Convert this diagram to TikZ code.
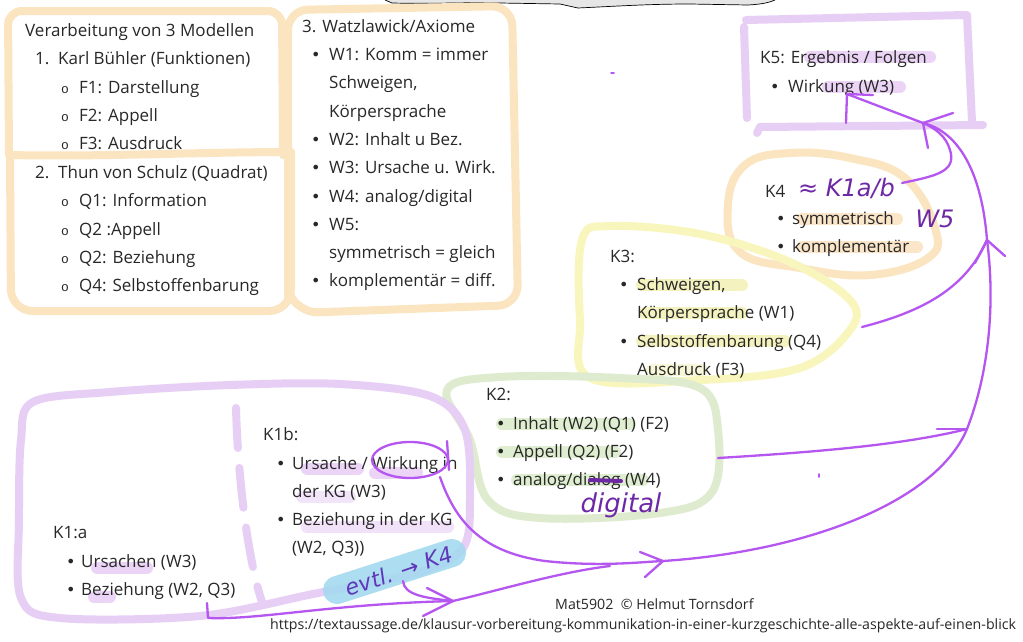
\documentclass[tikz,border=0pt]{standalone}
\usepackage{fontspec}
\setmainfont{Open Sans}
\newfontfamily\hand{DejaVu Sans}
\newfontfamily\monof{Liberation Mono}
\definecolor{peach}{RGB}{251,228,192}
\definecolor{lilac}{RGB}{231,206,245}
\definecolor{lime}{RGB}{222,235,206}
\definecolor{lemon}{RGB}{248,246,188}
\definecolor{violet}{RGB}{182,86,240}
\definecolor{ink}{RGB}{110,40,165}
\definecolor{sky}{RGB}{165,218,240}
\definecolor{txtc}{RGB}{40,40,40}
\definecolor{hlpurple}{RGB}{232,205,245}
\definecolor{hlorange}{RGB}{251,226,192}
\definecolor{hlyellow}{RGB}{243,241,180}
\definecolor{hlgreen}{RGB}{218,234,200}
\definecolor{topgray}{RGB}{230,230,230}
\begin{document}
\begin{tikzpicture}[x=1pt,y=-1pt,
  t/.style={anchor=base west,inner sep=0pt,font=\fontsize{17}{20}\selectfont,text=txtc},
  bul/.style={anchor=base west,inner sep=0pt,font=\hand\fontsize{16}{19}\selectfont,text=txtc},
  hol/.style={anchor=base west,inner sep=0pt,font=\monof\fontsize{13}{15}\selectfont,text=txtc},
  foot/.style={anchor=base west,inner sep=0pt,font=\fontsize{14.2}{16}\selectfont,text=txtc},
  hw/.style={inner sep=0pt,font=\hand\itshape\fontsize{24}{26}\selectfont,text=ink},
  pastel/.style={line width=8pt,line cap=round,line join=round},
  hl/.style={line width=12pt,line cap=round,opacity=0.85},
  arr/.style={draw=violet,line width=2.3pt,line cap=round,line join=round},
]
\fill[white] (0,0) rectangle (1023,641);
\useasboundingbox (0,0) rectangle (1023,641);

% top gray shape
\fill[topgray] (385,0) -- (392,3) .. controls (440,4) and (470,2) .. (500,3) -- (560,4) -- (578,8) .. controls (620,6) and (650,4) .. (690,4) -- (748,5) .. controls (765,4) and (770,2) .. (775,0) -- cycle;
\draw[black,line width=0.7pt] (385,0) -- (392,3) .. controls (440,4) and (470,2) .. (500,3) -- (560,4) -- (578,8) .. controls (620,6) and (650,4) .. (690,4) -- (748,5) .. controls (765,4) and (770,2) .. (775,0);

% orange boxes (top left)
\draw[pastel,peach,rounded corners=14pt] (9,155) -- (8,11) -- (282,11) -- (283,155);
\draw[pastel,peach] (9,155) .. controls (100,157) and (200,152) .. (291,152);
\draw[pastel,peach,rounded corners=22pt] (10,155) -- (11,311) -- (291,311) -- (291,152);
\draw[pastel,peach,rounded corners=20pt] (288,300) -- (288,10) -- (512,6) -- (518,305) -- (298,313) -- (288,290);

% K5 box
\draw[pastel,lilac] (744,27) -- (747,118);
\draw[pastel,lilac] (746,20) -- (965,15);
\draw[pastel,lilac] (967,15) -- (972,122);
\draw[pastel,lilac] (757,133) -- (760,127) -- (983,125);

% K4 blob
\draw[pastel,peach] plot[smooth cycle,tension=0.7] coordinates {(728,205) (745,165) (790,153) (850,158) (905,178) (935,228) (928,258) (870,275) (800,268) (740,252)};

% K3 blob
\draw[pastel,lemon] plot[smooth cycle,tension=0.6] coordinates {(582,240) (610,226) (700,234) (790,262) (850,300) (850,330) (800,368) (700,380) (590,378) (580,320)};

% K2 blob
\draw[pastel,lime] plot[smooth cycle,tension=0.6] coordinates {(447,390) (500,377) (620,378) (700,388) (718,430) (712,492) (660,513) (540,518) (488,500) (470,440)};

% K1 blob
\draw[pastel,lilac] plot[smooth cycle,tension=0.55] coordinates {(33,402) (110,392) (230,385) (340,384) (430,396) (465,430) (470,500) (463,548) (420,572) (313,594) (200,616) (60,618) (21,598) (19,520) (21,440)};
\draw[pastel,lilac,dash pattern=on 40pt off 20pt] (236,408) .. controls (238,480) and (248,560) .. (262,602);

% highlights
\draw[hl,sky,line width=28pt,opacity=0.9] (337,590) -- (452,553);
\draw[hl,hlpurple] (810,57) -- (930,57);
\draw[hl,hlpurple] (828,87) -- (900,87);
\draw[hl,hlorange] (802,219) -- (897,219);
\draw[hl,hlorange] (802,247) -- (917,247);
\draw[hl,hlyellow] (642,285) -- (742,285);
\draw[hl,hlyellow] (645,313) -- (742,313);
\draw[hl,hlyellow] (642,341) -- (785,341);
\draw[hl,hlyellow,opacity=0.5] (652,370) -- (702,370);
\draw[hl,hlgreen] (502,424) -- (630,424);
\draw[hl,hlgreen] (502,452) -- (615,452);
\draw[hl,hlgreen] (517,480) -- (643,480);
\draw[hl,hlpurple] (307,469) -- (358,469);
\draw[hl,hlpurple] (375,473) -- (417,473);
\draw[hl,hlpurple,opacity=0.5] (302,497) -- (350,497);
\draw[hl,hlpurple,opacity=0.6] (307,527) -- (448,527);
\draw[hl,hlpurple] (97,568) -- (147,568);
\draw[hl,hlpurple] (94,597) -- (110,597);

% ---- texts: left box
\node[t] (v0) at (25,36) {Verarbeitung von 3 Modellen};
\node[t] (n1) at (35,64.5) {1.};
\node[t] (kb) at (58,64.5) {Karl Bühler (Funktionen)};
\node[hol] (o1) at (61,93) {o};   \node[t] (f1) at (79,93) {F1: Darstellung};
\node[hol] (o2) at (61,121.5) {o}; \node[t] (f2) at (79,121.5) {F2: Appell};
\node[hol] (o3) at (61,149.5) {o}; \node[t] (f3) at (79,149.5) {F3: Ausdruck};
\node[t] (n2) at (35,178) {2.};
\node[t] (ts) at (58,178) {Thun von Schulz (Quadrat)};
\node[hol] (o4) at (61,206.5) {o}; \node[t] (q1) at (79,206.5) {Q1: Information};
\node[hol] (o5) at (61,235) {o};   \node[t] (q2) at (79,235) {Q2 :Appell};
\node[hol] (o6) at (61,263) {o};   \node[t] (q3) at (79,263) {Q2: Beziehung};
\node[hol] (o7) at (61,291.5) {o}; \node[t] (q4) at (79,291.5) {Q4: Selbstoffenbarung};

% right column
\node[t] (wz) at (302,32) {3. Watzlawick/Axiome};
\node[bul] (b1) at (311,60) {•};  \node[t] (w1) at (329,60) {W1: Komm = immer};
\node[t] (w1b) at (329,88) {Schweigen,};
\node[t] (w1c) at (329,117) {Körpersprache};
\node[bul] (b2) at (311,145) {•}; \node[t] (w2) at (329,145) {W2: Inhalt u Bez.};
\node[bul] (b3) at (311,173) {•}; \node[t] (w3) at (329,173) {W3: Ursache u. Wirk.};
\node[bul] (b4) at (311,202) {•}; \node[t] (w4) at (329,202) {W4: analog/digital};
\node[bul] (b5) at (311,230) {•}; \node[t] (w5) at (329,230) {W5:};
\node[t] (w5b) at (329,258) {symmetrisch = gleich};
\node[bul] (b6) at (311,286) {•}; \node[t] (w6) at (329,286) {komplementär = diff.};

% K5
\node[t] (k5) at (760,63) {K5: Ergebnis / Folgen};
\node[bul] (b51) at (770,92) {•}; \node[t] (wirk) at (788,92) {Wirkung (W3)};

% K4
\node[t] (k4) at (765,197) {K4};
\node[bul] (b41) at (776,224) {•}; \node[t] (sym) at (792,224) {symmetrisch};
\node[bul] (b42) at (776,252) {•}; \node[t] (kom) at (792,252) {komplementär};
\node[hw,anchor=west] (k4h) at (798,188) {≈ K1a/b};
\node[hw] (w5h) at (935,219) {W5};

% K3
\node[t] (k3) at (610,262) {K3:};
\node[bul] (b31) at (619,290) {•}; \node[t] (s31) at (637,290) {Schweigen,};
\node[t] (s32) at (637,318) {Körpersprache (W1)};
\node[bul] (b32) at (619,347) {•}; \node[t] (s33) at (637,347) {Selbstoffenbarung (Q4)};
\node[t] (s34) at (637,375) {Ausdruck (F3)};

% K2
\node[t] (k2) at (486,400) {K2:};
\node[bul] (b21) at (496,429) {•}; \node[t] (s21) at (513,429) {Inhalt (W2) (Q1) (F2)};
\node[bul] (b22) at (496,457) {•}; \node[t] (s22) at (513,457) {Appell (Q2) (F2)};
\node[bul] (b23) at (496,485) {•}; \node[t] (s23) at (513,485) {analog/dialog (W4)};
\draw[ink,line width=4pt,line cap=round] (590,480) -- (621,481);
\node[hw,font=\hand\itshape\fontsize{26}{28}\selectfont] (dig) at (621,505) {digital};

% K1b
\node[t] (k1b) at (263,440) {K1b:};
\node[bul] (b11) at (276,469) {•}; \node[t] (s11) at (292,469) {Ursache / Wirkung in};
\node[t] (s12) at (292,497) {der KG (W3)};
\node[bul] (b12) at (276,525) {•}; \node[t] (s13) at (292,525) {Beziehung in der KG};
\node[t] (s14) at (292,553) {(W2, Q3))};
% K1a
\node[t] (k1a) at (53,538) {K1:a};
\node[bul] (b13) at (66,567) {•}; \node[t] (s15) at (81,567) {Ursachen (W3)};
\node[bul] (b14) at (66,595) {•}; \node[t] (s16) at (81,595) {Beziehung (W2, Q3)};
\node[hw,rotate=19,font=\hand\itshape\fontsize{22}{24}\selectfont,text={rgb,255:red,95;green,55;blue,185}] (evtl) at (399,571) {evtl. → K4};

% footer
\node[foot] (mat) at (555,609) {Mat5902 \ © Helmut Tornsdorf};
\node[foot] (url) at (270,629) {https://textaussage.de/klausur-vorbereitung-kommunikation-in-einer-kurzgeschichte-alle-aspekte-auf-einen-blick};

% ---- arrows (hand drawn)
\coordinate (cA) at (440,477);
\coordinate (tip1) at (663,561);
\coordinate (tip2) at (967,429);
\coordinate (tip3) at (987,240);
\coordinate (tip4) at (923,123);
\coordinate (tip5) at (847,94);
\coordinate (tip6) at (453,601);
\coordinate (sK2) at (718,458);
\coordinate (sK3) at (862,327);
\coordinate (sK4) at (902,183);
\coordinate (sK1a) at (207,603);
\coordinate (sEv) at (403,581);

\draw[arr] (410,460) ellipse [x radius=38pt,y radius=18pt];
\draw[arr] (447,441) -- (449,470);
\draw[arr] (cA) .. controls (455,520) and (480,552) .. (545,561) .. controls (600,567) and (640,562) .. (tip1)
  .. controls (800,552) and (935,505) .. (tip2) .. controls (990,370) and (995,300) .. (tip3)
  .. controls (982,175) and (960,132) .. (tip4);
\draw[arr] (640,552) -- (tip1) -- (645,577);
\draw[arr] (sK2) .. controls (800,453) and (900,446) .. (tip2);
\draw[arr] (937,429) -- (tip2);
\draw[arr] (sK3) .. controls (920,312) and (965,290) .. (tip3);
\draw[arr] (975,263) -- (tip3) -- (1005,256);
\draw[arr] (sK4) .. controls (935,176) and (957,172) .. (950,150) .. controls (946,136) and (935,128) .. (tip4);
\draw[arr] (928,148) -- (tip4) -- (953,113);
\draw[arr] (tip4) -- (tip5);
\draw[arr] (846,123) -- (tip5) -- (873,95);
\draw[arr] (sK1a) -- (208,618) .. controls (260,620) and (330,604) .. (tip6)
  .. controls (500,590) and (560,572) .. (610,566);
\draw[arr] (sEv) .. controls (404,595) and (425,598) .. (tip6);
\draw[arr] (427,588) -- (tip6) -- (423,616);

% small marks
\draw[violet,line width=1.5pt,line cap=round] (611,73) -- (614,73);
\draw[violet,line width=1.5pt,line cap=round] (819,474) -- (819,477);
\end{tikzpicture}
\end{document}
